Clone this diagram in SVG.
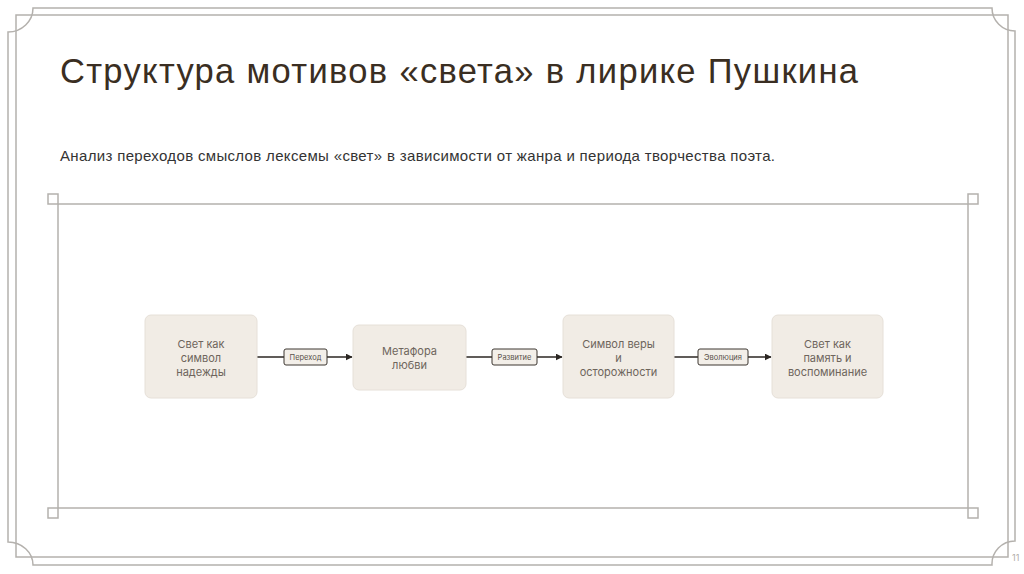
<svg xmlns="http://www.w3.org/2000/svg" width="1024" height="574" viewBox="0 0 1024 574">
<defs>
<style>
.frame{fill:none;stroke:#b4b1ad;stroke-width:1.5}
.node rect{fill:#f1ece5;stroke:#e6e0d8;stroke-width:1}
.node text{font-family:Inter,"Liberation Sans",sans-serif;font-size:11px;fill:#6e655c;text-anchor:middle}
.edge{stroke:#2b2622;stroke-width:1.4;fill:none}
.lbl rect{fill:#f3efe9;stroke:#3d3731;stroke-width:1}
.lbl text{font-family:Inter,"Liberation Sans",sans-serif;font-size:7.5px;fill:#5a524a;text-anchor:middle}
</style>
<marker id="ah" viewBox="0 0 10 10" refX="9" refY="5" markerWidth="7" markerHeight="7" markerUnits="userSpaceOnUse" orient="auto">
<path d="M0,0 L10,5 L0,10 z" fill="#2b2622"/>
</marker>
</defs>
<rect width="1024" height="574" fill="#ffffff"/>
<g id="page-frame">
<path class="frame" d="M33,8 H992 A23,23 0 0 0 1015,31 V541 A23,23 0 0 0 992,565 H33 A25,23 0 0 0 8,542 V32 A25,24 0 0 0 33,8 Z"/>
<rect class="frame" x="16" y="15" width="992" height="542"/>
<text x="1012" y="561" font-family="Inter,'Liberation Sans',sans-serif" font-size="9" fill="#b0aca8">11</text>
</g>
<g id="diagram-frame">
<rect class="frame" x="58" y="204" width="910" height="304"/>
<rect class="frame" x="48" y="194" width="10" height="10"/>
<rect class="frame" x="968" y="194" width="10" height="10"/>
<rect class="frame" x="48" y="508" width="10" height="10"/>
<rect class="frame" x="968" y="508" width="10" height="10"/>
</g>
<g id="title">
<text x="60" y="83" font-family="'Liberation Sans',Arial,sans-serif" font-size="34.5" fill="#3a2e22" textLength="798" lengthAdjust="spacing">Структура мотивов «света» в лирике Пушкина</text>
<text x="60" y="161" font-family="'Liberation Sans',Arial,sans-serif" font-size="15" fill="#333333" textLength="715" lengthAdjust="spacing">Анализ переходов смыслов лексемы «свет» в зависимости от жанра и периода творчества поэта.</text>
</g>
<g id="connectors">
<line class="edge" x1="257" y1="357" x2="352" y2="357" marker-end="url(#ah)"/>
<line class="edge" x1="466" y1="357" x2="562" y2="357" marker-end="url(#ah)"/>
<line class="edge" x1="674" y1="357" x2="771" y2="357" marker-end="url(#ah)"/>
<g class="lbl"><rect x="284" y="349" width="43" height="16" rx="2"/><text x="305.5" y="360">Переход</text></g>
<g class="lbl"><rect x="492" y="349" width="45" height="16" rx="2"/><text x="514.5" y="360">Развитие</text></g>
<g class="lbl"><rect x="698" y="349" width="50" height="16" rx="2"/><text x="723" y="360">Эволюция</text></g>
</g>
<g id="node1" class="node"><rect x="145" y="315" width="112" height="83" rx="6"/>
<text x="201" y="348">Свет как</text><text x="201" y="362">символ</text><text x="201" y="376">надежды</text></g>
<g id="node2" class="node"><rect x="353" y="325" width="113" height="65" rx="6"/>
<text x="409.5" y="355">Метафора</text><text x="409.5" y="369">любви</text></g>
<g id="node3" class="node"><rect x="563" y="315" width="111" height="83" rx="6"/>
<text x="618.5" y="348">Символ веры</text><text x="618.5" y="362">и</text><text x="618.5" y="376">осторожности</text></g>
<g id="node4" class="node"><rect x="772" y="315" width="111" height="83" rx="6"/>
<text x="827.5" y="348">Свет как</text><text x="827.5" y="362">память и</text><text x="827.5" y="376">воспоминание</text></g>
</svg>
